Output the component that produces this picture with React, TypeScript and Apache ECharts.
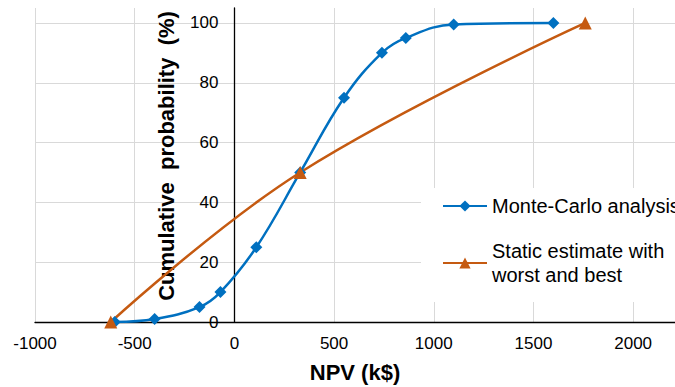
import React, { useEffect, useRef } from "react";
import * as echarts from "echarts";

const monteCarloSeriesName = "Monte-Carlo analysis";
const staticSeriesName = "Static estimate with worst and best";
const monteCarloNPV = [-600, -400, -175, -70, 110, 330, 550, 740, 860, 1100, 1600];
const monteCarloProb = [0, 1, 5, 10, 25, 50, 75, 90, 95, 99.5, 100];
const staticNPV = [-620, 330, 1760];
const staticProb = [0, 50, 100];

const FONT = "'Liberation Sans', Arial, sans-serif";
const GRID = "#d9d9d9";
const X_MIN = -1000;
const X_MAX = 2210;
const GRID_LEFT = 35;
const GRID_WIDTH = 640;

export default function App() {
  const ref = useRef<HTMLDivElement>(null);
  useEffect(() => {
    if (!ref.current) return;
    const chart = echarts.init(ref.current, undefined, { renderer: "svg" });
    const yOffset = -((0 - X_MIN) / (X_MAX - X_MIN)) * GRID_WIDTH;
    chart.setOption({
      animation: false,
      textStyle: { fontFamily: FONT },
      grid: {
        left: GRID_LEFT,
        width: GRID_WIDTH,
        top: 8,
        bottom: 65,
        containLabel: false,
        outerBoundsMode: "none",
      },
      legend: {
        orient: "vertical",
        left: 421,
        top: 188,
        padding: [6, 20, 3, 21],
        backgroundColor: "#ffffff",
        itemWidth: 44,
        itemHeight: 14,
        itemGap: 9,
        textStyle: { fontSize: 20, color: "#000", lineHeight: 24, fontFamily: FONT },
        formatter: (name: string) =>
          name === staticSeriesName ? "Static estimate with\nworst and best" : name,
        data: [
          { name: monteCarloSeriesName },
          { name: staticSeriesName, textStyle: { padding: [24, 0, 0, 0] } },
        ],
      },
      xAxis: {
        type: "value",
        min: X_MIN,
        max: X_MAX,
        interval: 500,
        name: "NPV (k$)",
        nameLocation: "middle",
        nameGap: 39,
        nameTextStyle: { fontSize: 22, fontWeight: "bold", color: "#000", fontFamily: FONT },
        axisLine: { onZero: true, lineStyle: { color: "#000", width: 1.3 } },
        axisTick: { show: false },
        axisLabel: {
          fontSize: 17,
          color: "#000",
          margin: 13,
          showMaxLabel: false,
          fontFamily: FONT,
          formatter: (v: number) => String(v),
        },
        splitLine: { show: true, lineStyle: { color: GRID, width: 1 } },
      },
      yAxis: {
        type: "value",
        min: 0,
        max: 105,
        interval: 20,
        offset: yOffset,
        name: "Cumulative  probability  (%)",
        nameLocation: "middle",
        nameGap: 57,
        nameTextStyle: {
          fontSize: 22,
          fontWeight: "bold",
          color: "#000",
          fontFamily: FONT,
          padding: [0, 0, 0, 18],
        },
        axisLine: { onZero: false, lineStyle: { color: "#000", width: 1.3 } },
        axisTick: { show: false },
        axisLabel: {
          fontSize: 17,
          color: "#000",
          margin: 16,
          showMaxLabel: false,
          fontFamily: FONT,
          formatter: (v: number) => String(v),
        },
        splitLine: {
          show: true,
          lineStyle: {
            color: [GRID, GRID, GRID, GRID, GRID, GRID, "rgba(0,0,0,0)"],
            width: 1,
          },
        },
      },
      series: [
        {
          name: monteCarloSeriesName,
          type: "line",
          smooth: 0.4,
          symbol: "diamond",
          symbolSize: 12,
          color: "#0070C0",
          lineStyle: { width: 2.5, color: "#0070C0" },
          itemStyle: { color: "#0070C0" },
          data: monteCarloNPV.map((x, i) => [x, monteCarloProb[i]]),
        },
        {
          name: staticSeriesName,
          type: "line",
          smooth: 0.4,
          symbol: "triangle",
          symbolSize: 13,
          color: "#C55A11",
          lineStyle: { width: 2.5, color: "#C55A11" },
          itemStyle: { color: "#C55A11" },
          data: staticNPV.map((x, i) => [x, staticProb[i]]),
        },
      ],
    });
    return () => chart.dispose();
  }, []);
  return (
    <div
      ref={ref}
      style={{ position: "fixed", left: 0, top: 0, width: 675, height: 387, background: "#fff" }}
    />
  );
}
